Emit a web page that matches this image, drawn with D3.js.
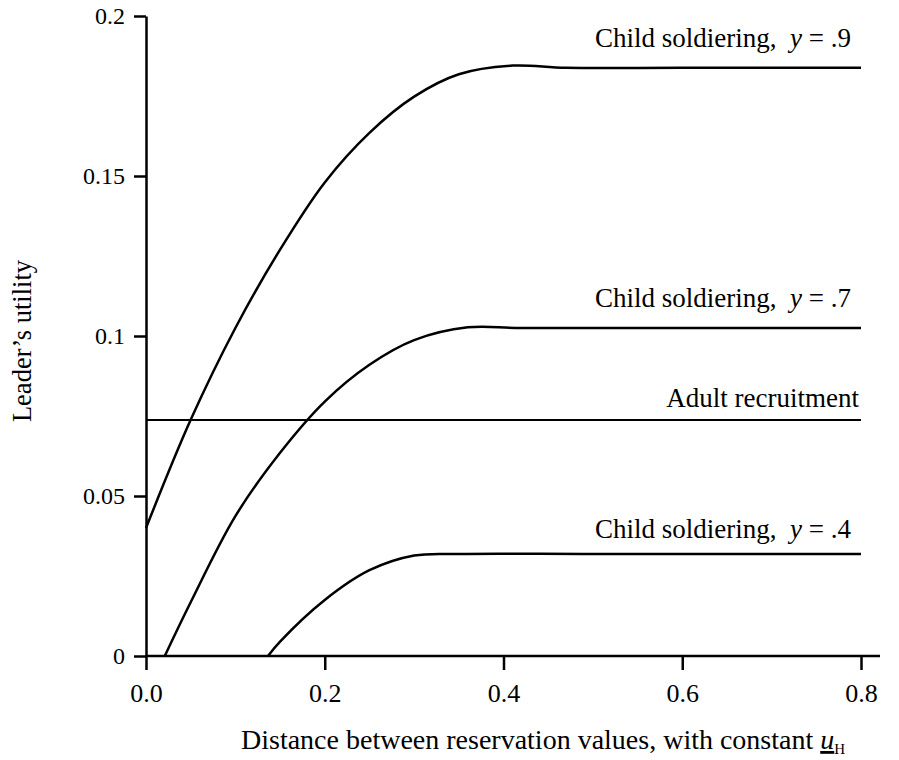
<!DOCTYPE html>
<html>
<head>
<meta charset="utf-8">
<script src="https://cdn.jsdelivr.net/npm/d3@7"></script>
<style>
  body { margin: 0; background: #fff; }
  svg text { font-family: "Liberation Serif", "Times New Roman", Times, "DejaVu Serif", serif; fill: #000; }
</style>
</head>
<body>
<div id="chart"></div>
<script>
// distance between reservation values (x) and leader's utility (y)
const dist9 = [0, 0.05, 0.1, 0.15, 0.2, 0.25, 0.3, 0.35, 0.41, 0.47, 0.6, 0.8];
const util9 = [0.040, 0.0738, 0.1025, 0.127, 0.148, 0.1635, 0.1748, 0.1818, 0.1845, 0.1838, 0.1838, 0.1838];

const dist7 = [0.021, 0.05, 0.1, 0.15, 0.2, 0.25, 0.3, 0.36, 0.42, 0.6, 0.8];
const util7 = [0, 0.0168, 0.0437, 0.0635, 0.0795, 0.091, 0.0987, 0.1027, 0.1025, 0.1025, 0.1025];

const dist4 = [0.1365, 0.15, 0.2, 0.25, 0.3, 0.35, 0.5, 0.8];
const util4 = [0, 0.0045, 0.0175, 0.0268, 0.0314, 0.0319, 0.0319, 0.0319];

const distAdult = [0, 0.8];
const utilAdult = [0.07375, 0.07375];

const xTicks = [0, 0.2, 0.4, 0.6, 0.8];
const yTicks = [0, 0.05, 0.1, 0.15, 0.2];
const yTickLabels = ['0', '0.05', '0.1', '0.15', '0.2'];

const series = [
  { x: dist9, y: util9, label: 'Child soldiering,', val: '.9', w: 2.5 },
  { x: dist7, y: util7, label: 'Child soldiering,', val: '.7', w: 2.5 },
  { x: distAdult, y: utilAdult, label: 'Adult recruitment', val: null, w: 2 },
  { x: dist4, y: util4, label: 'Child soldiering,', val: '.4', w: 2.5 }
];
const labelBase = [47, 307, 407, 538];

const W = 899, H = 760;
const svg = d3.select('#chart').append('svg').attr('width', W).attr('height', H);

const x = d3.scaleLinear().domain([0, 0.8]).range([146, 861]);
const y = d3.scaleLinear().domain([0, 0.2]).range([656, 16]);

const font = '"Liberation Serif", "Times New Roman", Times, "DejaVu Serif", serif';

// axes
const xAxis = svg.append('g')
  .attr('transform', 'translate(0,656)')
  .call(d3.axisBottom(x).tickValues(xTicks).tickFormat(d3.format('.1f')).tickSize(14).tickSizeOuter(0).tickPadding(13));
xAxis.select('.domain').attr('d', 'M146,0H880');

const yAxis = svg.append('g')
  .attr('transform', 'translate(146,0)')
  .call(d3.axisLeft(y).tickValues(yTicks).tickFormat((d, i) => yTickLabels[i]).tickSize(12).tickSizeOuter(0).tickPadding(9));

svg.selectAll('g').attr('font-family', font);
svg.selectAll('.domain, .tick line').attr('stroke', '#000').attr('stroke-width', 2.5);
xAxis.selectAll('.tick text').attr('font-size', 26).attr('dy', '0.72em');
yAxis.selectAll('.tick text').attr('font-size', 24);

// curves
const line = d3.line()
  .x(d => x(d[0]))
  .y(d => y(d[1]))
  .curve(d3.curveCatmullRom.alpha(0.5));

series.forEach(s => {
  svg.append('path')
    .datum(s.x.map((v, i) => [v, s.y[i]]))
    .attr('fill', 'none')
    .attr('stroke', '#000')
    .attr('stroke-width', s.w)
    .attr('d', line);
});

// curve labels
series.forEach((s, i) => {
  const t = svg.append('text')
    .attr('x', s.val ? 851 : 859)
    .attr('y', labelBase[i])
    .attr('text-anchor', 'end')
    .attr('font-size', 27)
    .attr('xml:space', 'preserve');
  t.append('tspan').text(s.label);
  if (s.val) {
    t.append('tspan').text('  ');
    t.append('tspan').style('font-style', 'italic').text('y');
    t.append('tspan').text(' = ' + s.val);
  }
});

// axis titles
svg.append('text')
  .attr('transform', 'translate(31,341) rotate(-90)')
  .attr('text-anchor', 'middle')
  .attr('font-size', 26.5)
  .text('Leader\u2019s utility');

const xt = svg.append('text')
  .attr('x', 241)
  .attr('y', 749)
  .attr('font-size', 28);
xt.append('tspan').text('Distance between reservation values, with constant ');
xt.append('tspan').style('font-style', 'italic').style('text-decoration', 'underline').text('u');
xt.append('tspan').attr('dy', 5).attr('font-size', 15).text('H');
</script>
</body>
</html>
